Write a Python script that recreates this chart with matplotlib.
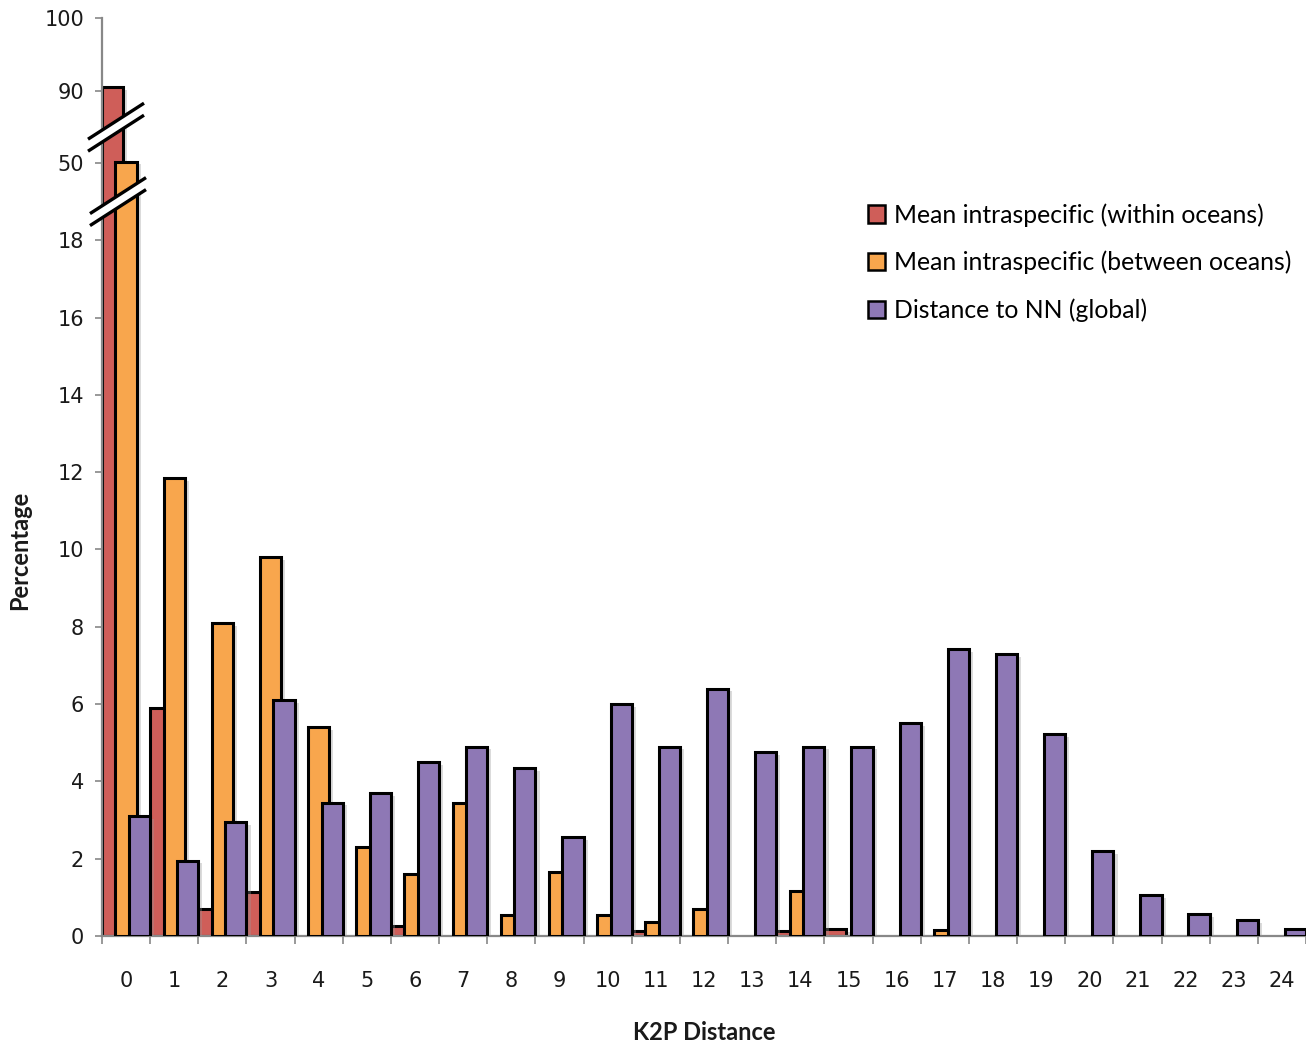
#!/usr/bin/env python3
"""Histogram of K2P distances (intraspecific vs nearest neighbour) with a broken y axis."""
import numpy as np
import matplotlib
matplotlib.use("Agg")
import matplotlib.pyplot as plt
import matplotlib.patheffects as pe
from matplotlib.patches import Polygon
from matplotlib.transforms import IdentityTransform

DISTANCES = list(range(25))
WITHIN = [90.6, 5.9, 0.7, 1.15, 0, 0, 0.25, 0, 0, 0, 0, 0.12, 0, 0, 0.12, 0.18,
          0, 0, 0, 0, 0, 0, 0, 0, 0]
BETWEEN = [50.8, 11.85, 8.1, 9.8, 5.4, 2.3, 1.6, 3.45, 0.55, 1.65, 0.55, 0.37, 0.7,
           0, 1.17, 0, 0, 0.15, 0, 0, 0, 0, 0, 0, 0]
NN_GLOBAL = [3.1, 1.95, 2.95, 6.1, 3.45, 3.7, 4.5, 4.9, 4.35, 2.55, 6.0, 4.9, 6.4,
             4.75, 4.9, 4.9, 5.5, 7.43, 7.3, 5.22, 2.2, 1.05, 0.57, 0.42, 0.17]
SERIES_LABELS = ["Mean intraspecific (within oceans)",
                 "Mean intraspecific (between oceans)",
                 "Distance to NN (global)"]
COLORS = ["#cf5e59", "#f8a64d", "#8e78b5"]
Y_TICKS = [0, 2, 4, 6, 8, 10, 12, 14, 16, 18, 50, 90, 100]

# piecewise-linear broken axis: 0-18 linear, then 50, 90, 100 squeezed in
BREAK_VALS = [-1000, 0, 18, 50, 90, 100, 1000]
BREAK_DISP = [-1000, 0, 18, 20, 21.85, 23.75, 23.75 + 900 * 0.19]


def fwd(v):
    return np.interp(v, BREAK_VALS, BREAK_DISP)


def inv(d):
    return np.interp(d, BREAK_DISP, BREAK_VALS)


def main():
    plt.rcParams["font.family"] = "DejaVu Sans"
    fig = plt.figure(figsize=(13.06, 10.44), dpi=100)
    ax = fig.add_axes([102 / 1306, 1 - 936 / 1044, 1204 / 1306, (936 - 18) / 1044])
    ax.set_yscale("function", functions=(fwd, inv))

    x = np.array(DISTANCES, dtype=float)
    width = 0.44
    shadow = [pe.SimplePatchShadow(offset=(3, -2), shadow_rgbFace="#999999", alpha=0.35), pe.Normal()]
    handles = []
    for k, (vals, color) in enumerate(zip([WITHIN, BETWEEN, NN_GLOBAL], COLORS)):
        lws = [2.2 if v > 0 else 0 for v in vals]
        bars = ax.bar(x + (k - 1) * 0.28, vals, width=width, color=color, edgecolor="black",
                      linewidth=lws, zorder=2 + k)
        for b in bars:
            if b.get_height() > 0:
                b.set_path_effects(shadow)
        handles.append(plt.Rectangle((0, 0), 1, 1, facecolor=color, edgecolor="black", linewidth=1.8))

    ax.set_xlim(-0.5, 24.5)
    ax.set_ylim(0, 100)
    ax.set_yticks(Y_TICKS)
    ax.set_yticklabels([str(t) for t in Y_TICKS])
    ax.yaxis.set_minor_locator(matplotlib.ticker.NullLocator())
    ax.tick_params(axis="y", which="major", length=5, width=1.2, color="#888888",
                   labelsize=15, pad=8, labelcolor="#1a1a1a")

    ax.set_xticks(np.arange(-0.5, 25, 1))
    ax.set_xticklabels([])
    ax.set_xticks(x, minor=True)
    ax.set_xticklabels([str(d) for d in DISTANCES], minor=True)
    ax.tick_params(axis="x", which="major", length=6, width=1.2, color="#888888", direction="out")
    ax.tick_params(axis="x", which="minor", length=0, labelsize=15, pad=25, labelcolor="#1a1a1a")

    for spine in ["top", "right"]:
        ax.spines[spine].set_visible(False)
    for spine in ["left", "bottom"]:
        ax.spines[spine].set_color("#888888")
        ax.spines[spine].set_linewidth(1.6)

    fig.text(20 / 1306, 1 - 550 / 1044, "Percentage", rotation=90, ha="center", va="center",
             fontsize=17, fontweight="bold", family="Lato", color="#1a1a1a")
    fig.text(704 / 1306, 1 - 1032 / 1044, "K2P Distance", ha="center", va="center",
             fontsize=17, fontweight="bold", family="Lato", color="#1a1a1a")

    ax.legend(handles, SERIES_LABELS, loc="upper left", bbox_to_anchor=(868 / 1306, 1 - 203 / 1044),
              bbox_transform=fig.transFigure, frameon=False, prop={"family": "Lato", "size": 17.8},
              handlelength=0.7, handleheight=0.7, handletextpad=0.35, labelspacing=0.98,
              borderpad=0, borderaxespad=0)

    # break marks across the y axis
    fig.canvas.draw()
    ax_left = ax.transAxes.transform((0, 0))[0]
    for val, dx in [(70, 14), (34, 16)]:
        cy = ax.transData.transform((0, val))[1]
        cx = ax_left + dx
        hx, hy, gap = 28, 18, 6
        p1 = (cx - hx, cy - hy + gap)
        p2 = (cx + hx, cy + hy + gap)
        p3 = (cx + hx, cy + hy - gap)
        p4 = (cx - hx, cy - hy - gap)
        ax.add_patch(Polygon([p1, p2, p3, p4], closed=True, facecolor="white", edgecolor="none",
                             transform=IdentityTransform(), clip_on=False, zorder=10))
        for a, b in [(p1, p2), (p4, p3)]:
            ax.plot([a[0], b[0]], [a[1], b[1]], color="black", linewidth=2.4,
                    transform=IdentityTransform(), clip_on=False, zorder=11,
                    solid_capstyle="butt")

    fig.savefig("out.png", dpi=100)
    plt.close(fig)


if __name__ == "__main__":
    main()
